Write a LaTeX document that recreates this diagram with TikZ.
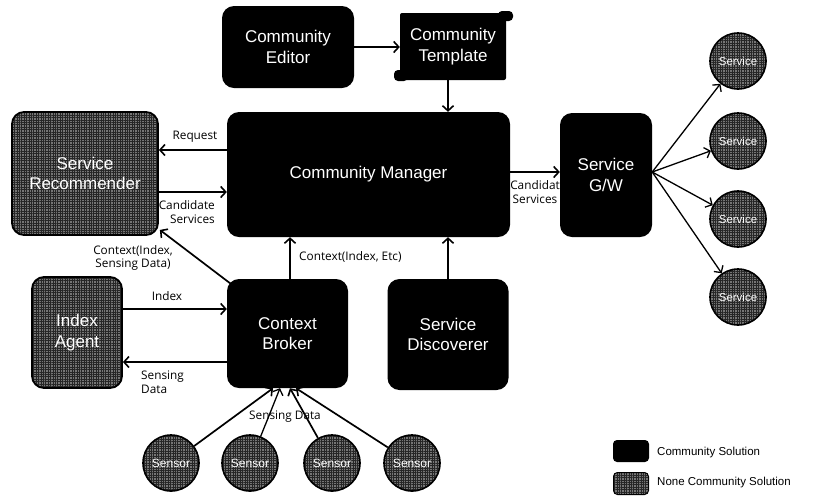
\documentclass[tikz,border=0pt]{standalone}
\usepackage{fontspec}
\setmainfont{Liberation Sans}
\newfontfamily\labfont{Open Sans}
\usetikzlibrary{arrows.meta,patterns.meta,calc}

\begin{document}
\begin{tikzpicture}[x=1pt,y=-1pt,
  blackbox/.style={fill=black, text=white, rounded corners=12pt, align=center,
    font=\fontsize{17}{20.5}\selectfont, inner sep=0pt},
  texfill/.style={preaction={fill={rgb,255:red,118;green,118;blue,118}},
    pattern={Hatch[angle=0,distance=2.4pt,line width=0.5pt]}, pattern color=black!85},
  greybox/.style={texfill, draw=black, line width=1.8pt, text=white,
    rounded corners=12pt, align=center, font=\fontsize{17}{20.5}\selectfont, inner sep=0pt},
  greydisc/.style={circle, texfill, draw=black, line width=1.6pt, text=white,
    minimum size=56pt, inner sep=0pt, font=\fontsize{11.5}{13}\selectfont},
  arr/.style={line width=1.7pt, -{Straight Barb[length=5pt,width=11pt,line width=1.6pt]}},
  thinarr/.style={line width=1.3pt, -{Straight Barb[length=5pt,width=11pt,line width=1.3pt]}},
  lab/.style={font=\labfont\fontsize{11.8}{13.5}\selectfont, inner sep=0pt},
  legtext/.style={font=\fontsize{11.5}{13}\selectfont, anchor=west, inner sep=0pt}]

\useasboundingbox (0,0) rectangle (818,499);

% editor and template
\node[blackbox, minimum width=132pt, minimum height=82pt] (ed) at (288,47) {Community\\Editor};
\fill[black, rounded corners=2pt] (400,13) rectangle (506,80);
\fill[black, rounded corners=4pt] (498,11) rectangle (513,21);
\fill[black, rounded corners=4pt] (394,70) rectangle (408,81);
\node[text=white, align=center, font=\fontsize{17}{20.5}\selectfont,
  minimum width=106pt, minimum height=67pt, inner sep=0pt] (tpl) at (453,46.5) {Community\\Template};

% central row
\node[blackbox, minimum width=283pt, minimum height=125pt] (cm) at (368.5,174.5) {Community Manager};
\node[greybox, minimum width=146pt, minimum height=123pt] (sr) at (85,173.5) {Service\\Recommender};
\node[blackbox, minimum width=92pt, minimum height=124pt] (gw) at (606,175) {Service\\G/W};

% services
\node[greydisc] (v1) at (738,61) {Service};
\node[greydisc] (v2) at (738,141) {Service};
\node[greydisc] (v3) at (738,219) {Service};
\node[greydisc] (v4) at (738,297) {Service};

% lower row
\node[blackbox, minimum width=121pt, minimum height=109pt] (cb) at (287.5,333.5) {Context\\Broker};
\node[blackbox, minimum width=121pt, minimum height=111pt] (sd) at (448,334.5) {Service\\Discoverer};
\node[greybox, minimum width=90pt, minimum height=111pt] (ia) at (77,332.5) {Index\\Agent};

% sensors
\node[greydisc, font=\fontsize{12}{14}\selectfont] (e1) at (171,463) {Sensor};
\node[greydisc, font=\fontsize{12}{14}\selectfont] (e2) at (250,463) {Sensor};
\node[greydisc, font=\fontsize{12}{14}\selectfont] (e3) at (332,463) {Sensor};
\node[greydisc, font=\fontsize{12}{14}\selectfont] (e4) at (412,463) {Sensor};

% legend
\node[fill=black, rounded corners=4pt, minimum width=36pt, minimum height=22pt, inner sep=0pt] (lg1) at (631,451) {};
\node[texfill, draw=black, line width=1pt, rounded corners=4pt, minimum width=35pt, minimum height=22pt, inner sep=0pt] (lg2) at (631,483.5) {};
\node[legtext] (lt1) at (657,453) {Community Solution};
\node[legtext] (lt2) at (657,483) {None Community Solution};

% connectors
\draw[arr] (ed.east |- 0,47) -- (tpl.west |- 0,47);
\draw[arr] ([xshift=-5pt]tpl.south) -- ([xshift=-5pt]tpl.south |- cm.north);

\draw[arr] ([yshift=24.5pt]cm.west) -- ([yshift=24.5pt]cm.west -| sr.east);
\draw[arr] ([yshift=-17.5pt]cm.west -| sr.east) -- ([yshift=-17.5pt]cm.west);
\node[lab] (lreq) at (195,137) {Request};
\node[lab, align=right, anchor=east] (lcand) at (215,212) {Candidate\\Services};

\draw[arr] ([yshift=2.5pt]cm.east) -- ([yshift=2.5pt]cm.east -| gw.west);
\node[lab, align=center] (lcand2) at (535,192) {Candidat\\Services};

\coordinate (gwp) at ([yshift=3pt]gw.east);
\draw[thinarr] (gwp) -- (v1);
\draw[thinarr] (gwp) -- (v2);
\draw[thinarr] (gwp) -- (v3);
\draw[thinarr] (gwp) -- (v4);

\draw[arr] ([xshift=2.5pt]cb.north) -- ([xshift=2.5pt]cb.north |- cm.south);
\node[lab, anchor=west] (lctx) at (299,257) {Context(Index, Etc)};
\draw[arr] (sd.north) -- (sd.north |- cm.south);

\draw[arr] ([xshift=4pt,yshift=-5pt]cb.north west) -- ([xshift=1pt,yshift=6pt]sr.south east);
\node[lab, align=center] (lctx2) at (133,258) {Context(Index,\\Sensing Data)};

\draw[arr] ([yshift=23.5pt]ia.east) -- ([yshift=23.5pt]ia.east -| cb.west);
\node[lab] (lidx) at (167,296) {Index};
\draw[arr] ([yshift=-29.5pt]ia.east -| cb.west) -- ([yshift=-29.5pt]ia.east);
\node[lab, align=left, anchor=west] (lsens) at (141,382) {Sensing\\Data};

\draw[arr] (e1) -- ([xshift=-14.5pt]cb.south);
\draw[thinarr] (e2) -- ([xshift=-7.5pt]cb.south);
\draw[arr] (e3) -- ([xshift=2.5pt]cb.south);
\draw[arr] (e4) -- ([xshift=8.5pt]cb.south);
\node[lab] (lsd) at (285,417) {Sensing Data};

\end{tikzpicture}
\end{document}
